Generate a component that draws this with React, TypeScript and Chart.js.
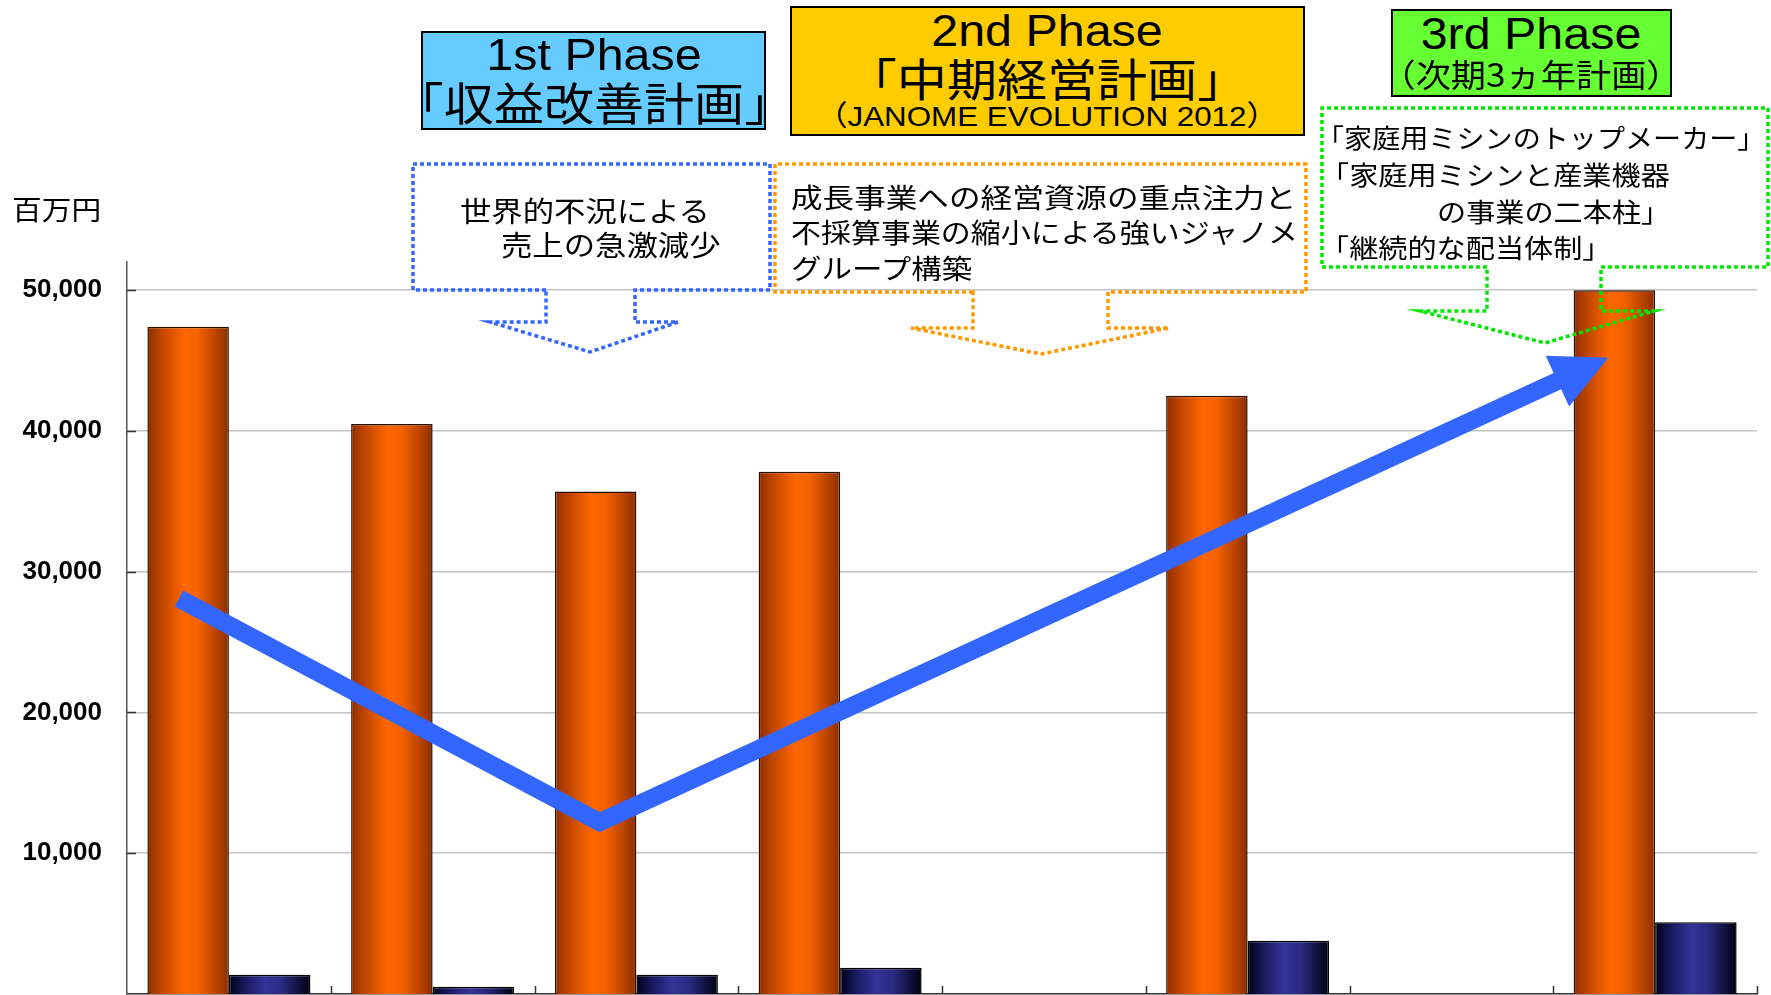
import React, { useEffect, useRef } from 'react';
import { Chart, registerables } from 'chart.js';

Chart.register(...registerables);

// ---- data ----
const categories = ['FY1', 'FY2', 'FY3', 'FY4', 'FY5', 'FY6', 'FY7', 'FY8'];
const salesValues: (number | null)[] = [47400, 40500, 35700, 37100, null, 42500, null, 50000];
const profitValues: (number | null)[] = [1370, 520, 1370, 1870, null, 3780, null, 5090];
const yMin = 0;
const yMax = 52000;
const yTicks = [10000, 20000, 30000, 40000, 50000];
// trend arrow: positions in category units and values (millions of yen)
const trendIndex = [-0.245, 1.82, 6.77];
const trendValue = [28100, 12200, 45200];

// ---- styles ----
const LATIN = '"Liberation Sans", Arial, "Noto Sans CJK JP", sans-serif';
const CJK = '"Noto Sans CJK JP", "Noto Sans CJK SC", sans-serif';
const W = 1771;
const H = 995;

const barStops: [number, string][][] = [
  [[0, '#8f2e00'], [0.18, '#c24700'], [0.45, '#ff6600'], [0.62, '#f56200'], [1, '#8f2e00']],
  [[0, '#000018'], [0.2, '#1a1a60'], [0.45, '#333399'], [0.65, '#2a2a80'], [1, '#000010']],
];

const callouts = [
  { color: '#3366FF', box: [413, 164, 770, 290], stemL: 546, stemR: 635, wingY: 322, wingL: 490, wingR: 678, tipX: 590, tipY: 352 },
  { color: '#FF9900', box: [775, 164, 1306, 292], stemL: 973, stemR: 1108, wingY: 328, wingL: 911, wingR: 1169, tipX: 1041, tipY: 354 },
  { color: '#00E600', box: [1322, 108, 1768, 267], stemL: 1487, stemR: 1601, wingY: 311, wingL: 1420, wingR: 1654, tipX: 1545, tipY: 343 },
];

const gradientPlugin = {
  id: 'barGradient',
  beforeDatasetsDraw(chart: any) {
    const ctx = chart.ctx as CanvasRenderingContext2D;
    chart.data.datasets.forEach((_ds: any, di: number) => {
      const meta = chart.getDatasetMeta(di);
      meta.data.forEach((el: any) => {
        const p = el.getProps(['x', 'width'], true);
        if (!isFinite(p.x) || !isFinite(p.width)) return;
        const left = p.x - p.width / 2;
        const g = ctx.createLinearGradient(left, 0, left + p.width, 0);
        barStops[di].forEach(([o, c]) => g.addColorStop(o, c));
        el.options = Object.assign({}, el.options, { backgroundColor: g });
      });
    });
  },
};

const decorPlugin = {
  id: 'decor',
  afterDatasetsDraw(chart: any) {
    const ctx = chart.ctx as CanvasRenderingContext2D;
    const area = chart.chartArea;
    const xs = chart.scales.x;
    const ys = chart.scales.y;
    ctx.save();
    // inner tick marks
    ctx.strokeStyle = '#333';
    ctx.lineWidth = 1.5;
    ctx.setLineDash([]);
    yTicks.forEach((v) => {
      const y = Math.round(ys.getPixelForValue(v)) + 0.5;
      ctx.beginPath();
      ctx.moveTo(area.left, y);
      ctx.lineTo(area.left + 9, y);
      ctx.stroke();
    });
    for (let i = 1; i <= categories.length; i++) {
      const x = Math.round(xs.getPixelForValue(i - 0.5)) + 0.5;
      ctx.beginPath();
      ctx.moveTo(x, area.bottom);
      ctx.lineTo(x, area.bottom - 8);
      ctx.stroke();
    }

    // dotted callouts
    callouts.forEach((c) => {
      const [l, t, r, b] = c.box;
      ctx.strokeStyle = c.color;
      ctx.lineWidth = 3.5;
      ctx.setLineDash([4, 3]);
      ctx.lineCap = 'butt';
      ctx.lineJoin = 'miter';
      ctx.beginPath();
      ctx.moveTo(c.stemL, b);
      ctx.lineTo(l, b);
      ctx.lineTo(l, t);
      ctx.lineTo(r, t);
      ctx.lineTo(r, b);
      ctx.lineTo(c.stemR, b);
      ctx.lineTo(c.stemR, c.wingY);
      ctx.lineTo(c.wingR, c.wingY);
      ctx.lineTo(c.tipX, c.tipY);
      ctx.lineTo(c.wingL, c.wingY);
      ctx.lineTo(c.stemL, c.wingY);
      ctx.closePath();
      ctx.stroke();
    });

    // trend arrow
    const pts = trendIndex.map((v, i) => ({ x: xs.getPixelForValue(v), y: ys.getPixelForValue(trendValue[i]) }));
    const tip = pts[pts.length - 1];
    const prev = pts[pts.length - 2];
    const dx = tip.x - prev.x;
    const dy = tip.y - prev.y;
    const L = Math.hypot(dx, dy);
    const ux = dx / L;
    const uy = dy / L;
    const headLen = 56;
    const headHalf = 28;
    ctx.setLineDash([]);
    ctx.strokeStyle = '#3366FF';
    ctx.fillStyle = '#3366FF';
    ctx.lineWidth = 18;
    ctx.lineJoin = 'miter';
    ctx.lineCap = 'butt';
    ctx.beginPath();
    ctx.moveTo(pts[0].x, pts[0].y);
    for (let i = 1; i < pts.length - 1; i++) ctx.lineTo(pts[i].x, pts[i].y);
    ctx.lineTo(tip.x - ux * (headLen - 6), tip.y - uy * (headLen - 6));
    ctx.stroke();
    const bx = tip.x - ux * headLen;
    const by = tip.y - uy * headLen;
    ctx.beginPath();
    ctx.moveTo(tip.x, tip.y);
    ctx.lineTo(bx - uy * headHalf, by + ux * headHalf);
    ctx.lineTo(bx + uy * headHalf, by - ux * headHalf);
    ctx.closePath();
    ctx.fill();
    ctx.restore();
  },
};

type Line = { text: string; x: number; cy: number; size: number; cjk?: boolean; center?: boolean; sx?: number };

const textLines: Line[] = [
  { text: '百万円', x: 12, cy: 209, size: 27, cjk: true },
  { text: '1st Phase', x: 594, cy: 55, size: 44, center: true },
  { text: '「収益改善計画」', x: 594, cy: 103, size: 45.5, cjk: true, center: true },
  { text: '2nd Phase', x: 1047, cy: 31, size: 44, center: true },
  { text: '「中期経営計画」', x: 1047, cy: 79, size: 45.5, cjk: true, center: true },
  { text: '（JANOME EVOLUTION 2012）', x: 1047, cy: 116, size: 28.5, center: true },
  { text: '3rd Phase', x: 1531, cy: 34, size: 44, center: true },
  { text: '（次期3ヵ年計画）', x: 1531, cy: 74, size: 32, cjk: true, center: true },
  { text: '世界的不況による', x: 460, cy: 211, size: 28, cjk: true, sx: 1.12 },
  { text: '売上の急激減少', x: 501, cy: 245, size: 28, cjk: true, sx: 1.12 },
  { text: '成長事業への経営資源の重点注力と', x: 791, cy: 197, size: 27, cjk: true, sx: 1.17 },
  { text: '不採算事業の縮小による強いジャノメ', x: 791, cy: 232, size: 27, cjk: true, sx: 1.11 },
  { text: 'グループ構築', x: 791, cy: 268, size: 27, cjk: true, sx: 1.13 },
  { text: '「家庭用ミシンのトップメーカー」', x: 1316, cy: 138, size: 26.5, cjk: true, sx: 1.06 },
  { text: '「家庭用ミシンと産業機器', x: 1320, cy: 175, size: 26.5, cjk: true },
  { text: 'の事業の二本柱」', x: 1437, cy: 212, size: 26.5, cjk: true },
  { text: '「継続的な配当体制」', x: 1320, cy: 248, size: 26.5, cjk: true },
];

const phaseBoxes = [
  { left: 421, top: 31, width: 345, height: 99, bg: '#66CCFF' },
  { left: 790, top: 6, width: 515, height: 130, bg: '#FFCC00' },
  { left: 1391, top: 9, width: 281, height: 88, bg: '#66FF33' },
];

function TextLine({ t }: { t: Line }) {
  const sx = t.sx ?? 1.1;
  const top = t.cy - t.size * (t.cjk ? 0.53 : 0.49);
  const style: React.CSSProperties = {
    position: 'absolute',
    left: t.x,
    top,
    fontSize: t.size,
    lineHeight: `${t.size}px`,
    height: t.size,
    whiteSpace: 'nowrap',
    fontFamily: t.cjk ? CJK : LATIN,
    color: '#000',
    transform: t.center ? `translateX(-50%) scaleX(${sx})` : `scaleX(${sx})`,
    transformOrigin: t.center ? 'center center' : 'left center',
  };
  return <div style={style}>{t.text}</div>;
}

export default function App() {
  const ref = useRef<HTMLCanvasElement | null>(null);
  useEffect(() => {
    if (!ref.current) return;
    const chart = new Chart(ref.current, {
      type: 'bar',
      data: {
        labels: categories,
        datasets: [
          {
            label: '売上高',
            data: salesValues,
            backgroundColor: '#FF6600',
            borderColor: '#2a1000',
            borderWidth: 1.5,
            categoryPercentage: 0.8,
            barPercentage: 1,
          },
          {
            label: '営業利益',
            data: profitValues,
            backgroundColor: '#333399',
            borderColor: '#000000',
            borderWidth: 1.5,
            categoryPercentage: 0.8,
            barPercentage: 1,
          },
        ],
      } as any,
      options: {
        responsive: false,
        maintainAspectRatio: false,
        animation: false,
        devicePixelRatio: 1,
        layout: { padding: { top: 262, right: 14, bottom: 1, left: 0 } },
        plugins: { legend: { display: false }, tooltip: { enabled: false }, title: { display: false } },
        scales: {
          x: {
            grid: { display: false, drawTicks: false },
            border: { display: true, color: '#333333', width: 1.5 },
            ticks: { display: false },
            afterFit: (s: any) => {
              s.height = 0;
              s.paddingLeft = 0;
              s.paddingRight = 0;
            },
          },
          y: {
            type: 'linear',
            min: yMin,
            max: yMax,
            grid: { display: true, color: '#c4c4c4', lineWidth: 1.5, drawTicks: false },
            border: { display: true, color: '#555555', width: 1.5 },
            afterBuildTicks: (s: any) => {
              s.ticks = yTicks.map((v) => ({ value: v }));
            },
            ticks: {
              display: true,
              autoSkip: false,
              padding: 25,
              color: '#000',
              font: { family: LATIN, size: 26, weight: 'bold' },
              callback: (v: any) => Number(v).toLocaleString('en-US'),
            },
            afterFit: (s: any) => {
              s.width = 127;
              s.paddingTop = 0;
              s.paddingBottom = 0;
            },
          },
        },
      } as any,
      plugins: [gradientPlugin, decorPlugin],
    });
    return () => chart.destroy();
  }, []);

  return (
    <div style={{ position: 'absolute', left: 0, top: 0, width: W, height: H, background: '#fff', overflow: 'hidden' }}>
      <canvas ref={ref} width={W} height={H} style={{ position: 'absolute', left: 0, top: 0, width: W, height: H, display: 'block' }} />
      {phaseBoxes.map((b, i) => (
        <div
          key={'b' + i}
          style={{
            position: 'absolute',
            left: b.left,
            top: b.top,
            width: b.width,
            height: b.height,
            background: b.bg,
            border: '2px solid #000',
            boxSizing: 'border-box',
          }}
        />
      ))}
      {textLines.map((t, i) => (
        <TextLine key={'t' + i} t={t} />
      ))}
    </div>
  );
}
